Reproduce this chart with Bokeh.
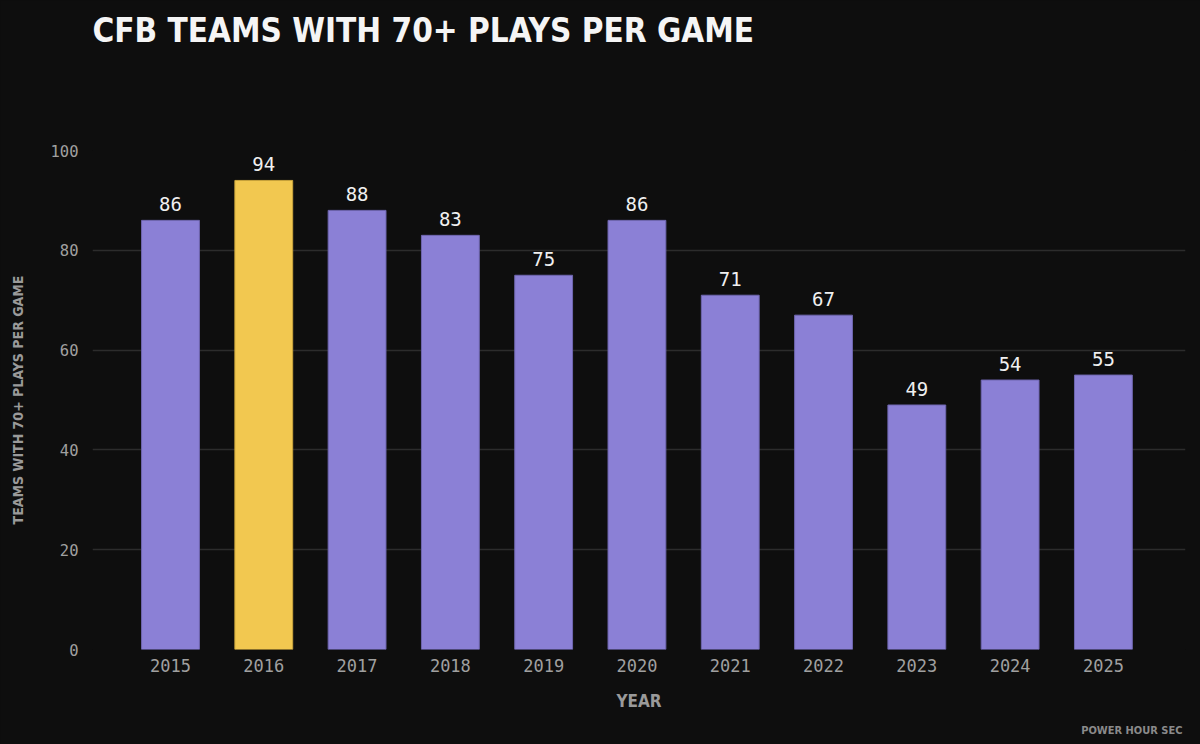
from bokeh.plotting import figure
from bokeh.models import ColumnDataSource, Range1d, FixedTicker, Title
from bokeh.core.properties import value
from bokeh.embed import file_html
from bokeh.resources import INLINE

years = [2015, 2016, 2017, 2018, 2019, 2020, 2021, 2022, 2023, 2024, 2025]
teams = [86, 94, 88, 83, 75, 86, 71, 67, 49, 54, 55]
highlight_year = 2016
y_ticks = [0, 20, 40, 60, 80, 100]

BG = "#0e0e0e"
PURPLE = "#8b80d6"
GOLD = "#f2c850"
COND = "DejaVu Sans Condensed"

colors = [GOLD if y == highlight_year else PURPLE for y in years]
lines = ["#c9a43c" if y == highlight_year else "#6f66b0" for y in years]
src = ColumnDataSource(dict(x=years, top=teams, color=colors, line=lines,
                            label=[str(v) for v in teams]))

p = figure(width=1200, height=744, output_backend="svg", toolbar_location=None,
           x_range=Range1d(2014.164, 2025.88), y_range=Range1d(0, 100),
           background_fill_color=BG, border_fill_color=BG,
           min_border_left=92, min_border_right=15, min_border_bottom=10,
           min_border_top=10)
p.outline_line_color = None

p.vbar(x="x", top="top", width=0.62, bottom=0, source=src,
       fill_color="color", line_color="line", line_width=1)
p.text(x="x", y="top", text="label", source=src, y_offset=-9,
       text_align="center", text_baseline="bottom", text_color="#f0f0f0",
       text_font=value("DejaVu Sans Mono"), text_font_size="19px")

p.title.text = "CFB TEAMS WITH 70+ PLAYS PER GAME"
p.title.text_font = COND
p.title.text_font_style = "bold"
p.title.text_font_size = "33px"
p.title.text_color = "#f5f5f5"
p.title.align = "left"
p.title.standoff = 0

has_pad = hasattr(p.title, "padding")
if has_pad:
    p.title.padding = 8
    p.title.offset = -8
else:
    p.title.offset = 0

spacer = Title(text=" ", text_font_size="10px", standoff=80 if has_pad else 84)
p.add_layout(spacer, "above")

credit = Title(text="POWER HOUR SEC", align="right", text_font=COND,
               text_font_style="bold", text_font_size="11px", text_color="#8a8a8a")
if has_pad:
    credit.padding = 3
p.add_layout(credit, "below")

p.xaxis.ticker = FixedTicker(ticks=years)
p.yaxis.ticker = FixedTicker(ticks=y_ticks)
for ax in (p.xaxis[0], p.yaxis[0]):
    ax.axis_line_color = None
    ax.major_tick_line_color = None
    ax.minor_tick_line_color = None
    ax.major_label_text_color = "#a0a0a0"
    ax.major_label_text_font = "DejaVu Sans Mono"
    ax.axis_label_text_color = "#9a9a9a"
    ax.axis_label_text_font = COND
    ax.axis_label_text_font_style = "bold"
p.xaxis.axis_label_text_font_size = "17px"
p.yaxis.axis_label_text_font_size = "14px"
p.xaxis.major_label_text_font_size = "17px"
p.yaxis.major_label_text_font_size = "15.5px"
p.xaxis.major_label_standoff = 3
p.yaxis.major_label_standoff = 8
p.xaxis.axis_label = "YEAR"
p.yaxis.axis_label = "TEAMS WITH 70+ PLAYS PER GAME"
p.xaxis.axis_label_standoff = 16
p.yaxis.axis_label_standoff = 22

p.xgrid.grid_line_color = None
p.ygrid.grid_line_color = "#2c2c2c"
p.ygrid.grid_line_width = 1.3

html = file_html(p, INLINE)
html = html.replace("</head>",
                    "<style>html,body{margin:0;padding:0;background:%s;}</style></head>" % BG, 1)
open("out.html", "w").write(html)
